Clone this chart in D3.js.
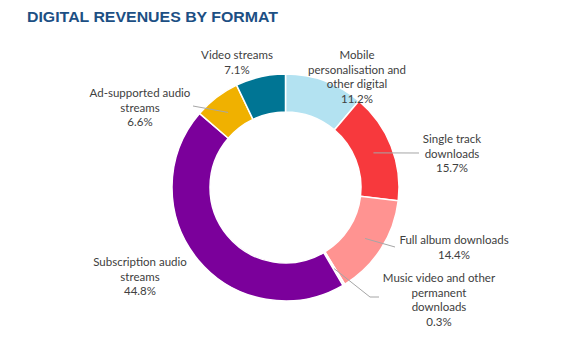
<!DOCTYPE html>
<html>
<head>
<meta charset="utf-8">
<script src="https://cdn.jsdelivr.net/npm/d3@7"></script>
<style>
  body { margin: 0; background: #ffffff; }
  svg { display: block; }
</style>
</head>
<body>
<div id="chart"><svg></svg></div>
<script>
/*********** Data ***********/
const formats = [
  'Mobile personalisation and other digital',
  'Single track downloads',
  'Full album downloads',
  'Music video and other permanent downloads',
  'Subscription audio streams',
  'Ad-supported audio streams',
  'Video streams'
]
const shares = [11.2, 15.7, 14.4, 0.3, 44.8, 6.6, 7.1]
const colors = ['#b3e2f1', '#f7393d', '#ff9391', '#f2f2f2', '#7b009b', '#f0b100', '#007594']

// label text split the way the reference wraps it
const labelLines = [
  ['Mobile', 'personalisation and', 'other digital'],
  ['Single track', 'downloads'],
  ['Full album downloads'],
  ['Music video and other', 'permanent', 'downloads'],
  ['Subscription audio', 'streams'],
  ['Ad-supported audio', 'streams'],
  ['Video streams']
]

/*********** Layout ***********/
const width = 567
const height = 353
const center = { x: 285.5, y: 187.5 }
const outerR = 113.5
const innerR = 75.5

// where each label block is centred (x) and where its first line sits (y)
const labelPos = [
  { x: 357, y: 59 },
  { x: 452, y: 143 },
  { x: 454, y: 244 },
  { x: 439, y: 282 },
  { x: 140, y: 266 },
  { x: 140, y: 97 },
  { x: 237, y: 59 }
]
// leader line end points (null = no leader)
const leaderEnd = [
  null,
  [[419, 153]],
  [[395, 247]],
  [[370, 297], [379, 297]],
  null,
  [[193, 106]],
  null
]

const svg = d3.select('#chart').select('svg')
  .attr('width', width)
  .attr('height', height)

// title
svg.append('text')
  .text('DIGITAL REVENUES BY FORMAT')
  .attr('x', 27)
  .attr('y', 22)
  .attr('fill', '#1c4f84')
  .attr('font-family', 'Liberation Sans, Arial, sans-serif')
  .attr('font-weight', 'bold')
  .attr('font-size', 14.5)
  .attr('textLength', 251)
  .attr('lengthAdjust', 'spacingAndGlyphs')

const data = formats.map((f, i) => ({ name: f, value: shares[i], i: i }))

const pie = d3.pie()
  .value(d => d.value)
  .sort(null)

const arc = d3.arc()
  .innerRadius(innerR)
  .outerRadius(outerR)

const color = d3.scaleOrdinal().domain(formats).range(colors)

const g = svg.append('g')
  .attr('transform', 'translate(' + center.x + ',' + center.y + ')')

const arcs = pie(data)

g.selectAll('path.slice')
  .data(arcs)
  .enter()
  .append('path')
  .attr('class', 'slice')
  .attr('d', arc)
  .attr('fill', d => color(d.data.name))
  .attr('stroke', '#ffffff')
  .attr('stroke-width', 1.5)

// leader lines from slice centroid to label
arcs.forEach(d => {
  const ends = leaderEnd[d.data.i]
  if (!ends) return
  const c = arc.centroid(d)
  const pts = [[center.x + c[0], center.y + c[1]]].concat(ends)
  svg.append('path')
    .attr('d', d3.line()(pts))
    .attr('fill', 'none')
    .attr('stroke', '#a6a6a6')
    .attr('stroke-width', 1)
})

// labels
const lineH = 14.7
data.forEach(d => {
  const lines = labelLines[d.i].concat([d3.format('.1f')(d.value) + '%'])
  const t = svg.append('text')
    .attr('text-anchor', 'middle')
    .attr('fill', '#404040')
    .attr('font-family', 'Lato, Carlito, sans-serif')
    .attr('font-size', 11.5)
  lines.forEach((l, k) => {
    t.append('tspan')
      .attr('x', labelPos[d.i].x)
      .attr('y', labelPos[d.i].y + k * lineH)
      .text(l)
  })
})
</script>
</body>
</html>
